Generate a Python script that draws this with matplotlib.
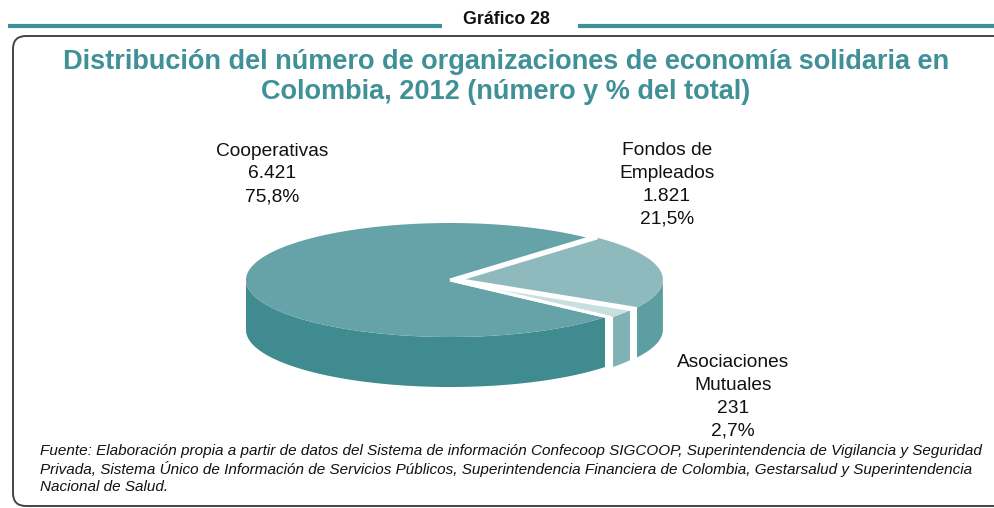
import numpy as np
import matplotlib.pyplot as plt
from matplotlib.patches import Polygon, FancyBboxPatch

plt.rcParams['font.family'] = ['Liberation Sans', 'DejaVu Sans']

categorias = ["Cooperativas", "Fondos de\nEmpleados", "Asociaciones\nMutuales"]
valores = [6421, 1821, 231]
porcentajes = ["75,8%", "21,5%", "2,7%"]
numeros = ["6.421", "1.821", "231"]

top_colors = ["#66a3a8", "#8fbabd", "#c8dfe0"]
side_colors = ["#3f8b8f", "#5c9ea2", "#80b2b5"]
explode = [0, 9, 6]

teal = "#3f9097"

fig = plt.figure(figsize=(9.94, 5.08), dpi=100)
ax = fig.add_axes([0, 0, 1, 1])
ax.set_xlim(0, 994)
ax.set_ylim(508, 0)
ax.axis("off")

# header and frame
ax.plot([8, 442], [26, 26], color=teal, lw=3, solid_capstyle="butt")
ax.plot([578, 994], [26, 26], color=teal, lw=3, solid_capstyle="butt")
ax.text(506, 19, "Gráfico 28", ha="center", va="center", fontsize=12.8,
        fontweight="bold", color="#111111")
frame = FancyBboxPatch((13, 36), 1000, 470, boxstyle="round,pad=0,rounding_size=13",
                       fill=False, ec="#444444", lw=1.4)
ax.add_patch(frame)

ax.text(506, 77, "Distribución del número de organizaciones de economía solidaria en\n"
        "Colombia, 2012 (número y % del total)", ha="center", va="center",
        fontsize=19.5, fontweight="bold", color=teal, linespacing=1.2)

# 3D pie
cx, cy, a, b, depth = 450, 280, 204, 57, 50
total = sum(valores)
start = 320.0  # degrees, clockwise
angles = []
t = start
for v in valores:
    sweep = 360.0 * v / total
    angles.append((t - sweep, t))
    t -= sweep


def pt(theta, ox, oy, dz=0):
    r = np.radians(theta)
    return ox + a * np.cos(r), oy - b * np.sin(r) + dz


offsets = []
for (t1, t2), e in zip(angles, explode):
    mid = np.radians((t1 + t2) / 2)
    offsets.append((cx + e * np.cos(mid), cy - e * (b / a) * np.sin(mid)))

# side walls (front half only)
for (t1, t2), (ox, oy), col in zip(angles, offsets, side_colors):
    for k in range(-1, 2):
        lo = max(t1, 180 + 360 * k)
        hi = min(t2, 360 + 360 * k)
        if hi <= lo:
            continue
        th = np.linspace(lo, hi, 80)
        upper = [pt(x, ox, oy) for x in th]
        lower = [pt(x, ox, oy, depth) for x in th[::-1]]
        ax.add_patch(Polygon(upper + lower, closed=True, fc=col, ec="none"))
        for edge in (lo, hi):
            if edge not in (180 + 360 * k, 360 + 360 * k):
                x0, y0 = pt(edge, ox, oy)
                ax.plot([x0, x0], [y0, y0 + depth], color="white", lw=2.2)

# top faces
for (t1, t2), (ox, oy), col in zip(angles, offsets, top_colors):
    th = np.linspace(t1, t2, 200)
    verts = [(ox, oy)] + [pt(x, ox, oy) for x in th]
    ax.add_patch(Polygon(verts, closed=True, fc=col, ec="none"))
    for edge in (t1, t2):
        x0, y0 = pt(edge, ox, oy)
        ax.plot([ox, x0], [oy, y0], color="white", lw=2.2, solid_capstyle="butt")

# labels
label_pos = [(272, 174), (667, 185), (733, 397)]
for cat, n, p, (lx, ly) in zip(categorias, numeros, porcentajes, label_pos):
    ax.text(lx, ly, f"{cat}\n{n}\n{p}", ha="center", va="center", fontsize=13.8,
            color="#111111", linespacing=1.45)

ax.text(40, 469, "Fuente: Elaboración propia a partir de datos del Sistema de información Confecoop SIGCOOP, "
        "Superintendencia de Vigilancia y Seguridad\nPrivada, Sistema Único de Información de Servicios "
        "Públicos, Superintendencia Financiera de Colombia, Gestarsalud y Superintendencia\nNacional de Salud.",
        ha="left", va="center", fontsize=11, style="italic", color="#111111", linespacing=1.22)

fig.savefig("out.png", dpi=100)
